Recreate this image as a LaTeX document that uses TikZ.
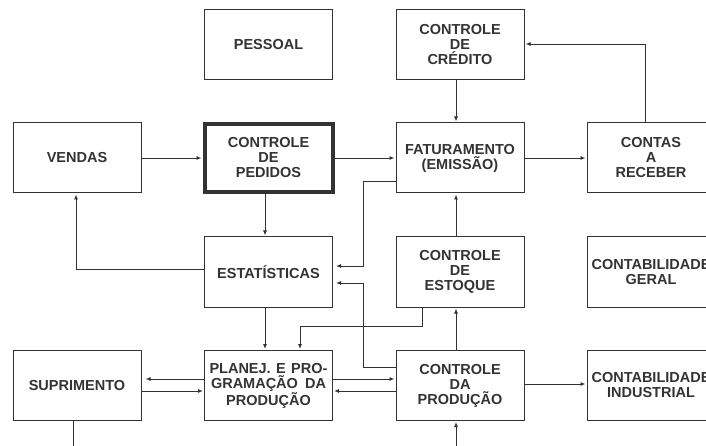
\documentclass[tikz,border=0pt]{standalone}
\usepackage{fontspec}
\setmainfont{Liberation Sans}
\usetikzlibrary{arrows.meta}
\definecolor{ink}{HTML}{333333}
\begin{document}
\begin{tikzpicture}[x=1pt,y=-1pt,
 box/.style={draw=ink, line width=1pt, minimum width=128pt, minimum height=70pt, inner sep=0pt, align=center, font=\bfseries\fontsize{14.5}{15}\selectfont, text=ink},
 arr/.style={draw=ink, line width=0.9pt, -{Latex[length=5pt,width=4pt]}, shorten >=1pt},
 ln/.style={draw=ink, line width=0.9pt}]
\useasboundingbox (0,0) rectangle (706,446);
\fill[white] (0,0) rectangle (706,446);
\node[box] (pessoal) at (268.5,45) {PESSOAL};
\node[box] (credito) at (460,44.5) {CONTROLE\\DE\\CRÉDITO};
\node[box] (vendas) at (77,158) {VENDAS};
\node[box,line width=4pt,minimum height=68pt] (pedidos) at (268.5,158) {CONTROLE\\DE\\PEDIDOS};
\node[box] (fat) at (460,158) {FATURAMENTO\\(EMISSÃO)};
\node[box] (contas) at (651,158) {CONTAS\\A\\RECEBER};
\node[box] (estat) at (268.5,272) {ESTATÍSTICAS};
\node[box] (estoque) at (460,272) {CONTROLE\\DE\\ESTOQUE};
\node[box] (geral) at (651,272) {CONTABILIDADE\\GERAL};
\node[box] (supr) at (77,385.5) {SUPRIMENTO};
\node[box] (planej) at (268.5,385.5) {\makebox[118pt][s]{PLANEJ. E PRO-}\\\makebox[115pt][s]{GRAMAÇÃO DA}\\PRODUÇÃO};
\node[box] (prod) at (460,385.5) {CONTROLE\\DA\\PRODUÇÃO};
\node[box] (indus) at (651,385.5) {CONTABILIDADE\\INDUSTRIAL};
% helper coordinates
\coordinate (xa) at (265,0);
\coordinate (xb) at (456,0);
\coordinate (xc) at (645,0);
\coordinate (xd) at (76,0);
\coordinate (xe) at (363,0);
\coordinate (xf) at (422,0);
\coordinate (xg) at (300,0);
\coordinate (xh) at (73,0);
\coordinate (ya) at (0,44);
\coordinate (yb) at (0,181);
\coordinate (yc) at (0,266);
\coordinate (yd) at (0,283);
\coordinate (ye) at (0,367);
\coordinate (yf) at (0,326);
\coordinate (yg) at (0,379);
\coordinate (yh) at (0,391);
\coordinate (yi) at (0,384);
\coordinate (yj) at (0,269);
\coordinate (bot1) at (73,446);
\coordinate (bot2) at (456,446);
% connectors
\draw[arr] (vendas.east) -- (pedidos.west);
\draw[arr] (pedidos.east) -- (fat.west);
\draw[arr] (credito.south -| xb) -- (fat.north -| xb);
\draw[arr] (fat.east) -- (contas.west);
\draw[arr] (contas.north -| xc) |- (credito.east |- ya);
\draw[arr] (pedidos.south -| xa) -- (estat.north -| xa);
\draw[arr] (estat.west |- yj) -| (vendas.south -| xd);
\draw[arr,shorten >=3pt] (fat.west |- yb) -| (xe |- yc) -- (estat.east |- yc);
\draw[arr,shorten >=3pt] (prod.west |- ye) -| (xe |- yd) -- (estat.east |- yd);
\draw[arr] (estoque.north -| xb) -- (fat.south -| xb);
\draw[arr] (estoque.south -| xf) |- (xg |- yf) -- (planej.north -| xg);
\draw[arr] (estat.south -| xa) -- (planej.north -| xa);
\draw[arr] (prod.north -| xb) -- (estoque.south -| xb);
\draw[arr,shorten >=4pt] (planej.west |- yg) -- (supr.east |- yg);
\draw[arr] (supr.east |- yh) -- (planej.west |- yh);
\draw[arr] (planej.east |- yg) -- (prod.west |- yg);
\draw[arr] (prod.west |- yh) -- (planej.east |- yh);
\draw[arr] (prod.east |- yi) -- (indus.west |- yi);
\draw[ln] (supr.south -| xh) -- (bot1);
\draw[arr] (bot2) -- (prod.south -| xb);
\end{tikzpicture}
\end{document}
